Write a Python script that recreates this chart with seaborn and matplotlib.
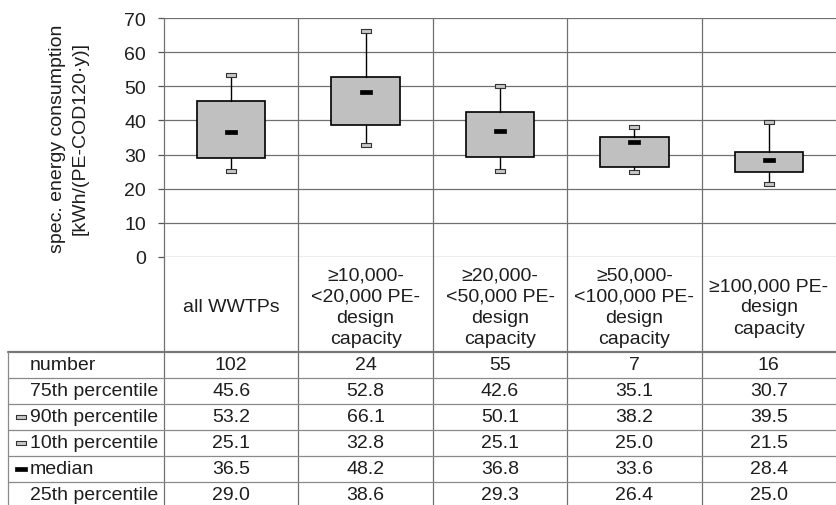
import numpy as np
import pandas as pd
import seaborn as sns
import matplotlib.pyplot as plt
from matplotlib.path import Path

# valores
categorias = ["all WWTPs",
              "≥10,000-\n<20,000 PE-\ndesign\ncapacity",
              "≥20,000-\n<50,000 PE-\ndesign\ncapacity",
              "≥50,000-\n<100,000 PE-\ndesign\ncapacity",
              "≥100,000 PE-\ndesign\ncapacity"]
numero = [102, 24, 55, 7, 16]
p75 = [45.6, 52.8, 42.6, 35.1, 30.7]
p90 = [53.2, 66.1, 50.1, 38.2, 39.5]
p10 = [25.1, 32.8, 25.1, 25.0, 21.5]
mediana = [36.5, 48.2, 36.8, 33.6, 28.4]
p25 = [29.0, 38.6, 29.3, 26.4, 25.0]
linhas = ["number", "75th percentile", "90th percentile",
          "10th percentile", "median", "25th percentile"]
ylabel = "spec. energy consumption\n[kWh/(PE-COD120·y)]"

sns.set_theme(style="white")
plt.rcParams['font.family'] = ['Liberation Sans', 'DejaVu Sans']
cor_texto = '#1e1e1e'
cor_grade = '#707070'
cor_tabela = '#8a8a8a'

W, H = 836, 506
fig = plt.figure(figsize=(W / 100, H / 100), dpi=100)
esq, dir_, topo, base = 164, 836, 19, 258
ax = fig.add_axes([esq / W, 1 - base / H, (dir_ - esq) / W, (base - topo) / H])

pos = np.arange(len(categorias))

# caixas a partir das estatisticas ja calculadas
stats = [dict(med=m, q1=a, q3=b, whislo=lo, whishi=hi, fliers=[])
         for m, a, b, lo, hi in zip(mediana, p25, p75, p10, p90)]
ax.bxp(stats, positions=pos, widths=0.51, patch_artist=True, showcaps=False,
       boxprops=dict(facecolor='#c0c0c0', edgecolor='black', linewidth=1.2),
       whiskerprops=dict(color='black', linewidth=1.0),
       medianprops=dict(visible=False), manage_ticks=False, zorder=3)


def retangulo(r):
    return Path([(-1, -r), (1, -r), (1, r), (-1, r), (-1, -r)], closed=True)


marca_cap = retangulo(0.3)
marca_med = retangulo(0.3)

caps = pd.DataFrame({"x": np.concatenate([pos, pos]), "y": p90 + p10})
sns.scatterplot(data=caps, x="x", y="y", marker=marca_cap, s=58,
                color='#c8c8c8', edgecolor='#333333', linewidth=0.8,
                ax=ax, zorder=4, legend=False)
sns.scatterplot(x=pos, y=mediana, marker=marca_med, s=78, color='black',
                edgecolor='black', linewidth=0.5, ax=ax, zorder=5, legend=False)

ax.set_xlim(-0.5, len(categorias) - 0.5)
ax.set_ylim(0, 70)
ax.set_yticks(range(0, 71, 10))
ax.yaxis.grid(True, color=cor_grade, linewidth=0.9)
ax.set_axisbelow(True)
for s in ['top', 'right', 'bottom', 'left']:
    ax.spines[s].set_visible(False)
ax.tick_params(axis='y', which='major', left=True, length=4, width=0.9,
               color='#555555', pad=9, labelsize=14, labelcolor=cor_texto)

# rotulos das categorias na faixa de cabecalho
ax.set_xticks(pos)
ax.set_xticklabels(categorias)
ax.tick_params(axis='x', length=0, pad=36, labelsize=14, labelcolor=cor_texto)
for t in ax.get_xticklabels():
    t.set_verticalalignment('center')
    t.set_multialignment('center')
    t.set_linespacing(1.32)
ax.set_xlabel("")

ax.set_ylabel(ylabel, fontsize=14, color=cor_texto)
ax.yaxis.label.set_verticalalignment('center')
ax.yaxis.label.set_multialignment('center')
ax.yaxis.label.set_linespacing(1.45)
ax.yaxis.set_label_coords((69 - esq) / (dir_ - esq), 0.5)


# tabela embaixo
def ya(y):
    return (base - y) / (base - topo)


def xa(x):
    return (x - esq) / (dir_ - esq)


trans = ax.get_xaxis_transform()
fundo = ya(H + 4)
ax.vlines(np.arange(-0.5, len(categorias) - 0.5), fundo, 1, transform=trans,
          colors=cor_grade, linewidth=0.9, clip_on=False, zorder=1)

topo_tab, alt = 353, 26
ax.plot([xa(8), 1], [ya(topo_tab)] * 2, transform=ax.transAxes,
        color='#777777', linewidth=1.6, clip_on=False)
for i in range(1, len(linhas)):
    y = ya(topo_tab + i * alt)
    ax.plot([xa(8), 1], [y, y], transform=ax.transAxes, color=cor_tabela,
            linewidth=0.9, clip_on=False)
ax.plot([xa(8)] * 2, [ya(topo_tab), fundo], transform=ax.transAxes,
        color=cor_tabela, linewidth=0.9, clip_on=False)

valores = [numero, p75, p90, p10, mediana, p25]
for i, (nome, vals) in enumerate(zip(linhas, valores)):
    yc = ya(topo_tab + (i + 0.5) * alt)
    ax.text(xa(30), yc, nome, transform=ax.transAxes, ha='left', va='center',
            fontsize=14, color=cor_texto)
    for j, v in enumerate(vals):
        txt = str(v) if i == 0 else f"{v:.1f}"
        ax.text(pos[j], yc, txt, transform=trans, ha='center', va='center',
                fontsize=14, color=cor_texto)

# marcas de legenda ao lado dos nomes
ax.scatter([xa(21)] * 2, [ya(topo_tab + 2.5 * alt), ya(topo_tab + 3.5 * alt)],
           transform=ax.transAxes, marker=marca_cap, s=62, facecolor='#c8c8c8',
           edgecolor='#333333', linewidth=0.8, clip_on=False)
ax.scatter([xa(21)], [ya(topo_tab + 4.5 * alt)], transform=ax.transAxes,
           marker=marca_med, s=78, facecolor='black', edgecolor='black',
           linewidth=0.5, clip_on=False)

fig.savefig("out.png", dpi=100)
